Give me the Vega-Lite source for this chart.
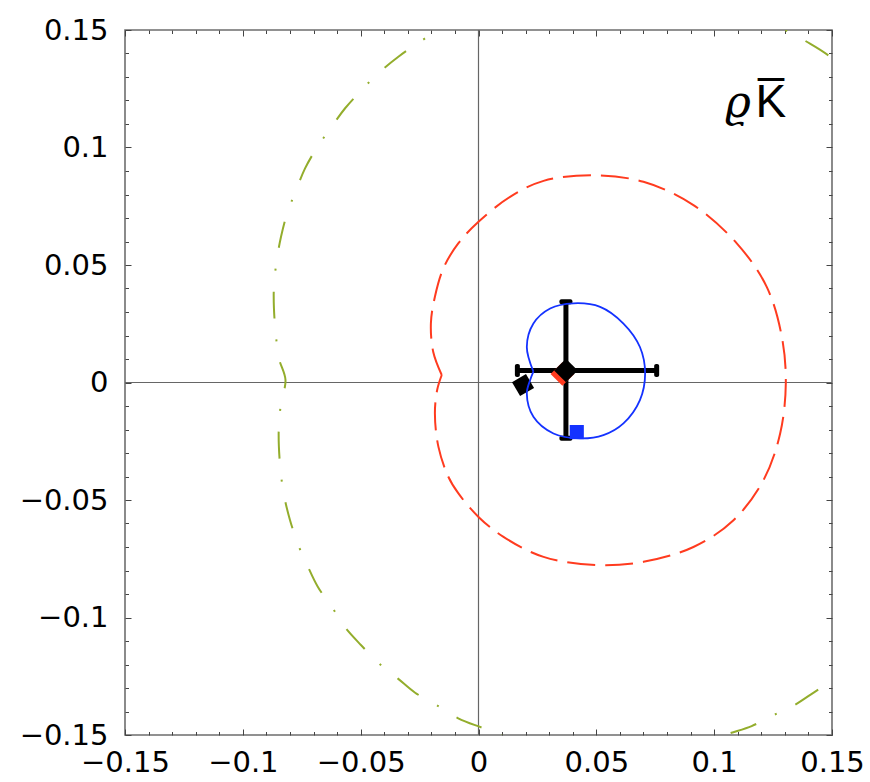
{
  "$schema": "https://vega.github.io/schema/vega-lite/v6.json",
  "width": 707,
  "height": 705,
  "autosize": {"type": "none"},
  "padding": {"left": 125, "top": 30, "right": 38, "bottom": 47},
  "background": "white",
  "config": {
    "view": {"stroke": "#6e6e6e", "strokeWidth": 1.6},
    "axis": {"grid": false, "domain": false, "title": null, "labelFont": "DejaVu Sans", "labelFontSize": 29, "labelColor": "black", "tickColor": "#444", "tickWidth": 1, "labelFlush": false, "labelOverlap": false}
  },
  "datasets": {
    "green": [
      {"i": 0, "x": -0.0036, "y": 0.153}, {"i": 1, "x": -0.0163, "y": 0.15}, {"i": 2, "x": -0.0269, "y": 0.1436},
      {"i": 3, "x": -0.034, "y": 0.1386}, {"i": 4, "x": -0.0425, "y": 0.1316}, {"i": 5, "x": -0.0503, "y": 0.1237},
      {"i": 6, "x": -0.0566, "y": 0.1167}, {"i": 7, "x": -0.0623, "y": 0.1089}, {"i": 8, "x": -0.0687, "y": 0.0997},
      {"i": 9, "x": -0.0736, "y": 0.0911}, {"i": 10, "x": -0.0771, "y": 0.0826}, {"i": 11, "x": -0.0814, "y": 0.0713},
      {"i": 12, "x": -0.0838, "y": 0.062}, {"i": 13, "x": -0.0856, "y": 0.0521}, {"i": 14, "x": -0.0868, "y": 0.0408},
      {"i": 15, "x": -0.0868, "y": 0.0316}, {"i": 16, "x": -0.0861, "y": 0.0216}, {"i": 17, "x": -0.0847, "y": 0.0103},
      {"i": 18, "x": -0.0819, "y": 0.0011}, {"i": 19, "x": -0.0838, "y": -0.0089}, {"i": 20, "x": -0.0847, "y": -0.0181},
      {"i": 21, "x": -0.0847, "y": -0.0273}, {"i": 22, "x": -0.0838, "y": -0.0394}, {"i": 23, "x": -0.0824, "y": -0.0486},
      {"i": 24, "x": -0.08, "y": -0.0585}, {"i": 25, "x": -0.0765, "y": -0.0691}, {"i": 26, "x": -0.0725, "y": -0.0781},
      {"i": 27, "x": -0.0682, "y": -0.0869}, {"i": 28, "x": -0.0616, "y": -0.0965}, {"i": 29, "x": -0.0566, "y": -0.1042},
      {"i": 30, "x": -0.0499, "y": -0.1117}, {"i": 31, "x": -0.0418, "y": -0.1199}, {"i": 32, "x": -0.0343, "y": -0.1259},
      {"i": 33, "x": -0.0269, "y": -0.132}, {"i": 34, "x": -0.0171, "y": -0.1377}, {"i": 35, "x": -0.0086, "y": -0.1429},
      {"i": 36, "x": 0.002, "y": -0.1471}, {"i": 37, "x": 0.0176, "y": -0.153}, {"i": 38, "x": 0.0346, "y": -0.157},
      {"i": 39, "x": 0.0516, "y": -0.159}, {"i": 40, "x": 0.0685, "y": -0.1595}, {"i": 41, "x": 0.0855, "y": -0.157},
      {"i": 42, "x": 0.0982, "y": -0.153}, {"i": 43, "x": 0.1046, "y": -0.15}, {"i": 44, "x": 0.1159, "y": -0.1462},
      {"i": 45, "x": 0.1244, "y": -0.1419}, {"i": 46, "x": 0.1329, "y": -0.138}, {"i": 47, "x": 0.1435, "y": -0.1311},
      {"i": 48, "x": 0.15, "y": -0.127}, {"i": 49, "x": 0.156, "y": -0.122}, {"i": 50, "x": 0.17, "y": -0.095},
      {"i": 51, "x": 0.182, "y": -0.05}, {"i": 52, "x": 0.187, "y": 0.0}, {"i": 53, "x": 0.184, "y": 0.05},
      {"i": 54, "x": 0.172, "y": 0.1}, {"i": 55, "x": 0.16, "y": 0.128}, {"i": 56, "x": 0.1492, "y": 0.1386},
      {"i": 57, "x": 0.1393, "y": 0.145}, {"i": 58, "x": 0.13, "y": 0.15}, {"i": 59, "x": 0.111, "y": 0.156},
      {"i": 60, "x": 0.0855, "y": 0.161}, {"i": 61, "x": 0.0516, "y": 0.163}, {"i": 62, "x": 0.0176, "y": 0.158},
      {"i": 63, "x": -0.0036, "y": 0.153}
    ],
    "red": [
      {"i": 0, "x": -0.0156, "y": 0.0032}, {"i": 1, "x": -0.0192, "y": 0.013}, {"i": 2, "x": -0.0202, "y": 0.0252},
      {"i": 3, "x": -0.0185, "y": 0.0365}, {"i": 4, "x": -0.0149, "y": 0.0486}, {"i": 5, "x": -0.0086, "y": 0.0592},
      {"i": 6, "x": 0.0, "y": 0.0684}, {"i": 7, "x": 0.0134, "y": 0.079}, {"i": 8, "x": 0.0276, "y": 0.0858},
      {"i": 9, "x": 0.0481, "y": 0.0882}, {"i": 10, "x": 0.07, "y": 0.0854}, {"i": 11, "x": 0.0912, "y": 0.0755},
      {"i": 12, "x": 0.1096, "y": 0.0592}, {"i": 13, "x": 0.1223, "y": 0.0407}, {"i": 14, "x": 0.1287, "y": 0.0195},
      {"i": 15, "x": 0.1304, "y": -0.0004}, {"i": 16, "x": 0.128, "y": -0.0217}, {"i": 17, "x": 0.1209, "y": -0.0416},
      {"i": 18, "x": 0.1082, "y": -0.0586}, {"i": 19, "x": 0.0912, "y": -0.07}, {"i": 20, "x": 0.07, "y": -0.0763},
      {"i": 21, "x": 0.0502, "y": -0.0777}, {"i": 22, "x": 0.0276, "y": -0.0742}, {"i": 23, "x": 0.0106, "y": -0.0657},
      {"i": 24, "x": 0.0, "y": -0.0572}, {"i": 25, "x": -0.0086, "y": -0.0471}, {"i": 26, "x": -0.0128, "y": -0.0401},
      {"i": 27, "x": -0.017, "y": -0.0274}, {"i": 28, "x": -0.0185, "y": -0.0131}, {"i": 29, "x": -0.0175, "y": -0.003},
      {"i": 30, "x": -0.0156, "y": 0.0032}
    ],
    "blue": [
      {"i": 0, "x": 0.0233, "y": 0.0046}, {"i": 1, "x": 0.0205, "y": 0.0151}, {"i": 2, "x": 0.0233, "y": 0.0251},
      {"i": 3, "x": 0.0304, "y": 0.0315}, {"i": 4, "x": 0.0403, "y": 0.0337}, {"i": 5, "x": 0.0516, "y": 0.0322},
      {"i": 6, "x": 0.0615, "y": 0.0251}, {"i": 7, "x": 0.0685, "y": 0.0151}, {"i": 8, "x": 0.0707, "y": 0.0038},
      {"i": 9, "x": 0.0685, "y": -0.0075}, {"i": 10, "x": 0.0615, "y": -0.0174}, {"i": 11, "x": 0.053, "y": -0.0224},
      {"i": 12, "x": 0.0431, "y": -0.0238}, {"i": 13, "x": 0.0318, "y": -0.0217}, {"i": 14, "x": 0.0233, "y": -0.0146},
      {"i": 15, "x": 0.0205, "y": -0.0047}, {"i": 16, "x": 0.0219, "y": 0.001}, {"i": 17, "x": 0.0233, "y": 0.0046}
    ],
    "cross": [
      {"x": 0.0371, "y": 0.0051, "xlo": 0.0165, "xhi": 0.0756, "ylo": -0.0237, "yhi": 0.0344}
    ],
    "pts": [
      {"name": "red", "x": 0.0356, "y": 0.0036},
      {"name": "black2", "x": 0.0189, "y": -0.0011},
      {"name": "blue", "x": 0.0417, "y": -0.0211}
    ],
    "labels": [
      {"part": "rho", "x": 0.1101, "y": 0.113, "text": "ϱ"},
      {"part": "K", "x": 0.1241, "y": 0.113, "text": "K̅"}
    ]
  },
  "resolve": {"axis": {"x": "independent", "y": "independent"}},
  "layer": [
    {
      "data": {"values": [{"v": 0}]},
      "mark": {"type": "rule", "stroke": "#666", "strokeWidth": 1.2},
      "encoding": {"x": {"field": "v", "type": "quantitative", "axis": null, "scale": {"domain": [-0.15, 0.15], "nice": false, "zero": false}}}
    },
    {
      "data": {"values": [{"v": 0}]},
      "mark": {"type": "rule", "stroke": "#666", "strokeWidth": 1.2},
      "encoding": {"y": {"field": "v", "type": "quantitative", "axis": null, "scale": {"domain": [-0.15, 0.15], "nice": false, "zero": false}}}
    },
    {
      "data": {"name": "cross"},
      "mark": {"type": "rule", "stroke": "black", "strokeWidth": 5},
      "encoding": {
        "x": {"field": "xlo", "type": "quantitative", "scale": {"domain": [-0.15, 0.15], "nice": false, "zero": false},
          "axis": {"orient": "top", "labels": false, "tickSize": -3.5, "values": [-0.14,-0.13,-0.12,-0.11,-0.09,-0.08,-0.07,-0.06,-0.04,-0.03,-0.02,-0.01,0.01,0.02,0.03,0.04,0.06,0.07,0.08,0.09,0.11,0.12,0.13,0.14]}},
        "x2": {"field": "xhi"},
        "y": {"field": "y", "type": "quantitative", "scale": {"domain": [-0.15, 0.15], "nice": false, "zero": false},
          "axis": {"orient": "right", "labels": false, "tickSize": -3.5, "values": [-0.14,-0.13,-0.12,-0.11,-0.09,-0.08,-0.07,-0.06,-0.04,-0.03,-0.02,-0.01,0.01,0.02,0.03,0.04,0.06,0.07,0.08,0.09,0.11,0.12,0.13,0.14]}}
      }
    },
    {
      "data": {"name": "cross"},
      "mark": {"type": "rule", "stroke": "black", "strokeWidth": 5},
      "encoding": {
        "x": {"field": "x", "type": "quantitative", "axis": null},
        "y": {"field": "ylo", "type": "quantitative", "axis": null},
        "y2": {"field": "yhi"}
      }
    },
    {
      "data": {"name": "cross"},
      "mark": {"type": "tick", "orient": "vertical", "color": "black", "size": 13, "thickness": 5, "cornerRadius": 2, "opacity": 1},
      "encoding": {"x": {"field": "xlo", "type": "quantitative", "axis": null}, "y": {"field": "y", "type": "quantitative", "axis": null}}
    },
    {
      "data": {"name": "cross"},
      "mark": {"type": "tick", "orient": "vertical", "color": "black", "size": 13, "thickness": 5, "cornerRadius": 2, "opacity": 1},
      "encoding": {"x": {"field": "xhi", "type": "quantitative", "axis": null}, "y": {"field": "y", "type": "quantitative", "axis": null}}
    },
    {
      "data": {"name": "cross"},
      "mark": {"type": "tick", "orient": "horizontal", "color": "black", "size": 13, "thickness": 5, "cornerRadius": 2, "opacity": 1},
      "encoding": {"x": {"field": "x", "type": "quantitative", "axis": null}, "y": {"field": "yhi", "type": "quantitative", "axis": null}}
    },
    {
      "data": {"name": "cross"},
      "mark": {"type": "tick", "orient": "horizontal", "color": "black", "size": 13, "thickness": 5, "cornerRadius": 2, "opacity": 1},
      "encoding": {"x": {"field": "x", "type": "quantitative", "axis": null}, "y": {"field": "ylo", "type": "quantitative", "axis": null}}
    },
    {
      "data": {"name": "pts"},
      "transform": [{"filter": "datum.name == 'red'"}],
      "mark": {"type": "point", "shape": "diamond", "filled": true, "color": "#ff3b1f", "size": 560, "opacity": 1},
      "encoding": {"x": {"field": "x", "type": "quantitative", "axis": null}, "y": {"field": "y", "type": "quantitative", "axis": null}}
    },
    {
      "data": {"name": "cross"},
      "mark": {"type": "point", "shape": "diamond", "filled": true, "color": "black", "size": 560, "opacity": 1},
      "encoding": {"x": {"field": "x", "type": "quantitative", "axis": null}, "y": {"field": "y", "type": "quantitative", "axis": null}}
    },
    {
      "data": {"name": "pts"},
      "transform": [{"filter": "datum.name == 'black2'"}],
      "mark": {"type": "point", "shape": "diamond", "filled": true, "color": "black", "size": 520, "angle": 15, "opacity": 1},
      "encoding": {"x": {"field": "x", "type": "quantitative", "axis": null}, "y": {"field": "y", "type": "quantitative", "axis": null}}
    },
    {
      "data": {"name": "pts"},
      "transform": [{"filter": "datum.name == 'blue'"}],
      "mark": {"type": "point", "shape": "square", "filled": true, "color": "#1432ff", "size": 200, "opacity": 1},
      "encoding": {"x": {"field": "x", "type": "quantitative", "axis": null}, "y": {"field": "y", "type": "quantitative", "axis": null}}
    },
    {
      "data": {"name": "green"},
      "mark": {"type": "line", "clip": true, "stroke": "#93ad2c", "strokeWidth": 2, "strokeDash": [27, 21, 2, 21], "strokeCap": "butt", "interpolate": "catmull-rom"},
      "encoding": {
        "x": {"field": "x", "type": "quantitative", "scale": {"domain": [-0.15, 0.15], "nice": false, "zero": false},
          "axis": {"orient": "bottom", "values": [-0.15, -0.1, -0.05, 0, 0.05, 0.1, 0.15], "format": ".2~f", "tickSize": -6, "labelPadding": 19}},
        "y": {"field": "y", "type": "quantitative", "scale": {"domain": [-0.15, 0.15], "nice": false, "zero": false},
          "axis": {"orient": "left", "values": [-0.15, -0.1, -0.05, 0, 0.05, 0.1, 0.15], "format": ".2~f", "tickSize": -6, "labelPadding": 23}},
        "order": {"field": "i"}
      }
    },
    {
      "data": {"name": "red"},
      "mark": {"type": "line", "clip": true, "stroke": "#ff3b1f", "strokeWidth": 2, "strokeDash": [28, 10], "strokeCap": "butt", "interpolate": "catmull-rom"},
      "encoding": {
        "x": {"field": "x", "type": "quantitative",
          "axis": {"orient": "bottom", "labels": false, "tickSize": -3.5, "values": [-0.14,-0.13,-0.12,-0.11,-0.09,-0.08,-0.07,-0.06,-0.04,-0.03,-0.02,-0.01,0.01,0.02,0.03,0.04,0.06,0.07,0.08,0.09,0.11,0.12,0.13,0.14]}},
        "y": {"field": "y", "type": "quantitative",
          "axis": {"orient": "left", "labels": false, "tickSize": -3.5, "values": [-0.14,-0.13,-0.12,-0.11,-0.09,-0.08,-0.07,-0.06,-0.04,-0.03,-0.02,-0.01,0.01,0.02,0.03,0.04,0.06,0.07,0.08,0.09,0.11,0.12,0.13,0.14]}},
        "order": {"field": "i"}
      }
    },
    {
      "data": {"name": "blue"},
      "mark": {"type": "line", "clip": true, "stroke": "#1432ff", "strokeWidth": 1.8, "interpolate": "catmull-rom"},
      "encoding": {
        "x": {"field": "x", "type": "quantitative",
          "axis": {"orient": "top", "labels": false, "tickSize": -6, "values": [-0.15, -0.1, -0.05, 0, 0.05, 0.1, 0.15]}},
        "y": {"field": "y", "type": "quantitative",
          "axis": {"orient": "right", "labels": false, "tickSize": -6, "values": [-0.15, -0.1, -0.05, 0, 0.05, 0.1, 0.15]}},
        "order": {"field": "i"}
      }
    },
    {
      "data": {"name": "labels"},
      "transform": [{"filter": "datum.part == 'rho'"}],
      "mark": {"type": "text", "font": "DejaVu Serif", "fontStyle": "italic", "fontSize": 44, "align": "center", "baseline": "alphabetic", "color": "black"},
      "encoding": {"x": {"field": "x", "type": "quantitative", "axis": null}, "y": {"field": "y", "type": "quantitative", "axis": null}, "text": {"field": "text"}}
    },
    {
      "data": {"name": "labels"},
      "transform": [{"filter": "datum.part == 'K'"}],
      "mark": {"type": "text", "font": "Liberation Sans", "fontSize": 46, "align": "center", "baseline": "alphabetic", "color": "black"},
      "encoding": {"x": {"field": "x", "type": "quantitative", "axis": null}, "y": {"field": "y", "type": "quantitative", "axis": null}, "text": {"field": "text"}}
    }
  ]
}
